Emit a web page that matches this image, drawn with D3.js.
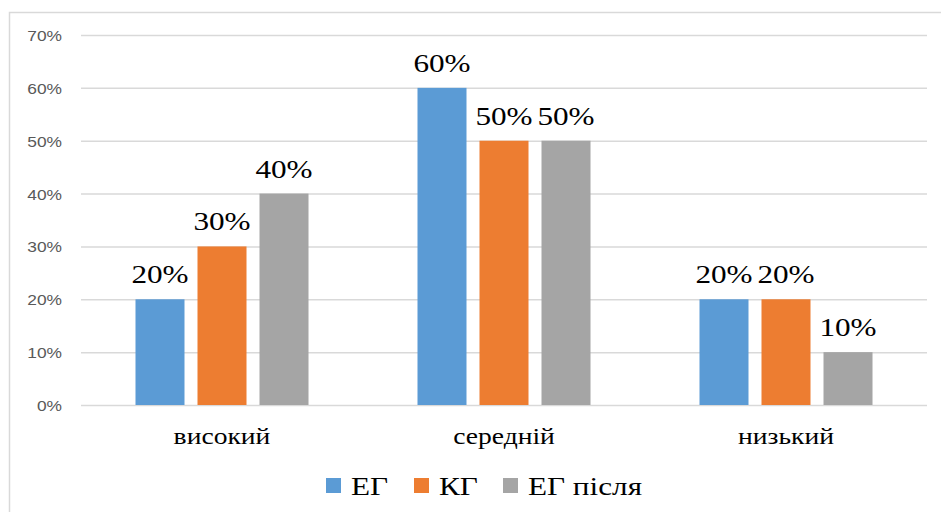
<!DOCTYPE html>
<html>
<head>
<meta charset="utf-8">
<script src="https://cdn.jsdelivr.net/npm/d3@7"></script>
<style>
  html, body { margin: 0; padding: 0; background: #fff; }
  svg { display: block; }
</style>
</head>
<body>
<svg id="chart" width="941" height="512"></svg>
<script>
// Рівні сформованості та частка учнів у кожній групі
const categories = ["високий", "середній", "низький"];
const seriesNames = ["ЕГ", "КГ", "ЕГ після"];
const egValues = [20, 60, 20];
const kgValues = [30, 50, 20];
const egAfterValues = [40, 50, 10];
const yTicks = [0, 10, 20, 30, 40, 50, 60, 70];
const colors = ["#5B9BD5", "#ED7D31", "#A5A5A5"];

const seriesValues = [egValues, kgValues, egAfterValues];
const rows = categories.map((c, i) => ({
  category: c,
  values: seriesNames.map((s, j) => ({ series: s, value: seriesValues[j][i] }))
}));

const svg = d3.select("#chart");
const plotLeft = 81, plotRight = 927, plotTop = 35, plotBottom = 405;
const serifFont = '"Liberation Serif"';
const sansFont = '"Liberation Sans"';
const stretch = 1.2;

// Chart area frame
svg.append("rect")
  .attr("x", 9.5).attr("y", 12.5)
  .attr("width", 940).attr("height", 520)
  .attr("fill", "none")
  .attr("stroke", "#D9D9D9")
  .attr("stroke-width", 1.5);

const y = d3.scaleLinear().domain([0, 70]).range([plotBottom, plotTop]);
const x0 = d3.scaleBand().domain(categories).range([plotLeft, plotRight])
  .paddingInner(0.3865).paddingOuter(0.3865 / 2);
const x1 = d3.scaleBand().domain(seriesNames).range([0, x0.bandwidth()])
  .paddingInner(0.2097).paddingOuter(0);
const color = d3.scaleOrdinal().domain(seriesNames).range(colors);

// Gridlines and value axis
const yAxis = svg.append("g")
  .attr("transform", `translate(${plotLeft},0)`)
  .call(d3.axisLeft(y).tickValues(yTicks).tickFormat(d => d + "%")
    .tickSize(-(plotRight - plotLeft)).tickPadding(0));
yAxis.attr("font-family", null).attr("font-size", null);
yAxis.select(".domain").remove();
yAxis.selectAll(".tick line")
  .attr("stroke", "#D9D9D9")
  .attr("stroke-width", 1.5);
yAxis.selectAll(".tick text")
  .attr("x", 0)
  .attr("dy", "0.35em")
  .attr("transform", `translate(-19,0) scale(1.12,1)`)
  .attr("text-anchor", "end")
  .attr("fill", "#595959")
  .style("font-family", sansFont)
  .style("font-size", "15.5px");

// Bars
const groups = svg.append("g").selectAll("g")
  .data(rows).join("g")
  .attr("transform", d => `translate(${x0(d.category)},0)`);

groups.selectAll("rect")
  .data(d => d.values).join("rect")
  .attr("x", d => x1(d.series))
  .attr("y", d => y(d.value))
  .attr("width", x1.bandwidth())
  .attr("height", d => y(0) - y(d.value))
  .attr("fill", d => color(d.series));

// Value labels
groups.selectAll("text.value")
  .data(d => d.values).join("text")
  .attr("class", "value")
  .attr("transform", d => `translate(${x1(d.series) + x1.bandwidth() / 2},${y(d.value) - 16}) scale(${stretch},1)`)
  .attr("text-anchor", "middle")
  .attr("fill", "#000")
  .style("font-family", serifFont)
  .style("font-size", "26px")
  .text(d => d.value + "%");

// Category labels
svg.append("g").selectAll("text")
  .data(categories).join("text")
  .attr("transform", d => `translate(${x0(d) + x0.bandwidth() / 2},444) scale(${stretch},1)`)
  .attr("text-anchor", "middle")
  .attr("fill", "#000")
  .style("font-family", serifFont)
  .style("font-size", "23px")
  .text(d => d);

// Legend
const legendX = [326, 414, 503];
const legend = svg.append("g").selectAll("g")
  .data(seriesNames).join("g")
  .attr("transform", (d, i) => `translate(${legendX[i]},0)`);
legend.append("rect")
  .attr("x", 0).attr("y", 478)
  .attr("width", 15).attr("height", 15)
  .attr("fill", d => color(d));
legend.append("text")
  .attr("transform", `translate(25,495) scale(${stretch},1)`)
  .attr("fill", "#000")
  .style("font-family", serifFont)
  .style("font-size", "26px")
  .text(d => d);
</script>
</body>
</html>
